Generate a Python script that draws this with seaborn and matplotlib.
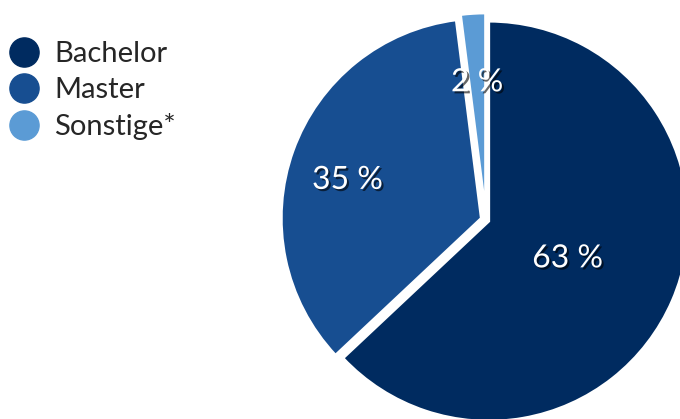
import matplotlib
matplotlib.use("Agg")
import matplotlib.pyplot as plt
import matplotlib.patheffects as pe
from matplotlib.lines import Line2D
import numpy as np
import seaborn as sns

# data
categories = ["Bachelor", "Master", "Sonstige*"]
shares = [63, 35, 2]
labels = ["63 %", "35 %", "2 %"]

colors = ["#002B60", "#174E91", "#5B9BD5"]
explode = [3, 5, 7]          # offsets in pixels (data units)
label_dist = [0.43, 0.70, 0.67]

sns.set_theme(style="white")
plt.rcParams["font.family"] = ["Lato", "DejaVu Sans"]

W, H = 680, 419
fig = plt.figure(figsize=(W / 100, H / 100), dpi=100)
ax = fig.add_axes([0, 0, 1, 1])

cx, cy, r = 486, H - 220, 200
wedges, _ = ax.pie(shares, colors=colors, startangle=90, counterclock=False,
                   explode=explode, center=(cx, cy), radius=r, frame=True,
                   wedgeprops=dict(edgecolor="white", linewidth=2))
ax.set_xlim(0, W)
ax.set_ylim(0, H)
ax.set_aspect("equal")
ax.axis("off")

shadow = [pe.SimplePatchShadow(offset=(1.5, -1.5), shadow_rgbFace="black", alpha=0.6),
          pe.Normal()]
# small angle tweak so labels sit where the reference has them
angle_shift = [0, 2.5, 0]
for w, lab, d, e, s in zip(wedges, labels, label_dist, explode, angle_shift):
    ang = np.deg2rad((w.theta1 + w.theta2) / 2 + s)
    x = cx + (r * d + e) * np.cos(ang)
    y = cy + (r * d + e) * np.sin(ang)
    ax.text(x, y, lab, ha="center", va="center_baseline", color="white", fontsize=23,
            path_effects=shadow)

handles = [Line2D([], [], marker="o", linestyle="", markersize=21,
                  markerfacecolor=c, markeredgecolor=c) for c in colors]
fig.legend(handles, categories, loc="upper left", bbox_to_anchor=(9 / W, 1 - 41 / H),
           frameon=False, fontsize=21, handlelength=1.0, handletextpad=0.55,
           labelspacing=0.35, borderpad=0, borderaxespad=0)

fig.savefig("out.png", dpi=100)
